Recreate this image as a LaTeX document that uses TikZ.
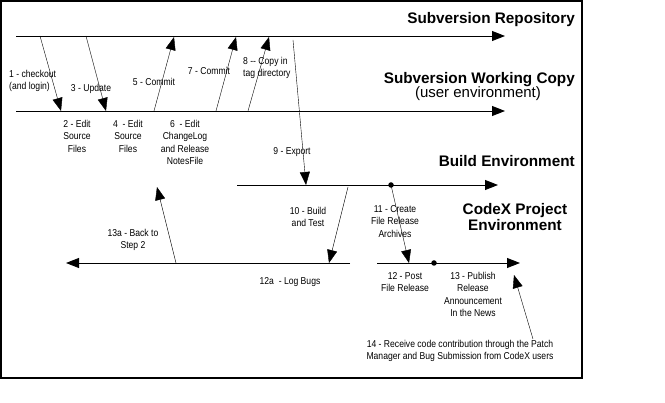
\documentclass[tikz,border=0pt]{standalone}
\usepackage{fontspec}
\setmainfont{Liberation Sans}
\newfontfamily\narrowsans[FakeStretch=0.86]{Liberation Sans}
\usetikzlibrary{calc,positioning}
\usetikzlibrary{arrows.meta}
\tikzset{>={Triangle[width=10pt,length=13pt]}}

\begin{document}
\begin{tikzpicture}[x=1pt,y=-1pt]
      \tikzstyle{tnode} = [font=\fontsize{15.3}{16.5}\selectfont\bfseries, inner sep = 0pt]
      \tikzstyle{unode} = [font=\fontsize{15}{16}\selectfont, inner sep = 0pt]
      \tikzstyle{lnode} = [font=\narrowsans\fontsize{10}{12.5}\selectfont, inner sep = 0pt, align=center]
      \tikzstyle{dnode} = [circle, fill, inner sep = 0pt, minimum size = 5.5pt]
      \tikzstyle{line} = [line width = 0.9pt]

      \useasboundingbox (0,0) rectangle (665,403);
      \draw[line width = 1.2pt] (1,1) rectangle (582,378);

      % time lines
      \coordinate (repS) at (16,36);   \coordinate (repE) at (505,36);
      \coordinate (wcS) at (16,111);   \coordinate (wcE) at (505,111);
      \coordinate (bldS) at (237,185); \coordinate (bldE) at (498,185);
      \coordinate (cxS) at (350,263);  \coordinate (cxE) at (66,263);
      \coordinate (pubS) at (377,263); \coordinate (pubE) at (520,263);
      \draw[line, ->] (repS) -- (repE);
      \draw[line, ->] (wcS) -- (wcE);
      \draw[line, ->] (bldS) -- (bldE);
      \draw[line, ->] (cxS) -- (cxE);
      \draw[line, ->] (pubS) -- (pubE);

      \node[dnode] (d11) at (391,185) {};
      \node[dnode] (d13) at (434,263) {};

      % titles
      \node[tnode, anchor=base east] (trep) at (575,24) {Subversion Repository};
      \node[tnode, anchor=base east] (twc) at (575,84) {Subversion Working Copy};
      \node[unode, anchor=base] (tuser) at (478,98) {(user environment)};
      \node[tnode, anchor=base east] (tbld) at (575,167) {Build Environment};
      \node[tnode, anchor=base, align=center] (tcx) at (515,231) {CodeX Project\\Environment};

      % steps
      \coordinate (a1) at (40,36);   \coordinate (b1) at (61,111);
      \coordinate (a3) at (86,36);   \coordinate (b3) at (106,111);
      \coordinate (a5) at (154,111); \coordinate (b5) at (174,37);
      \coordinate (a7) at (216,111); \coordinate (b7) at (236,37);
      \coordinate (a8) at (248,111); \coordinate (b8) at (269,37);
      \coordinate (a9) at (293,40);  \coordinate (b9) at (306,185);
      \coordinate (a10) at (348,187); \coordinate (b10) at (329,263);
      \coordinate (b11) at (409,263);
      \coordinate (a13) at (176,263); \coordinate (b13) at (157,187);
      \coordinate (a14) at (533,339); \coordinate (b14) at (514,275);
      \draw[->] (a1) -- (b1);
      \draw[->] (a3) -- (b3);
      \draw[->] (a5) -- (b5);
      \draw[->] (a7) -- (b7);
      \draw[->] (a8) -- (b8);
      \draw[->] (a9) -- (b9);
      \draw[->] (a10) -- (b10);
      \draw[->] (d11.center) -- (b11);
      \draw[->] (a13) -- (b13);
      \draw[->] (a14) -- (b14);

      % labels
      \node[lnode, align=left, anchor=north west] (l1) at (9,70) {1 - checkout\\(and login)};
      \node[lnode] (l3) at (91,89) {3 - Update};
      \node[lnode] (l5) at (154,82) {5 - Commit};
      \node[lnode] (l7) at (209,71) {7 - Commit};
      \node[lnode, align=left, anchor=north west] (l8) at (243,57) {8 -- Copy in\\tag directory};
      \node[lnode, anchor=north] (l2) at (77,120) {2 - Edit\\Source\\Files};
      \node[lnode, anchor=north] (l4) at (128,120) {4 \ - Edit\\Source\\Files};
      \node[lnode, anchor=north] (l6) at (185,120) {6 \ - Edit\\ChangeLog\\and Release\\NotesFile};
      \node[lnode] (l9) at (292,152) {9 - Export};
      \node[lnode, anchor=north] (l10) at (308,207) {10 - Build\\and Test};
      \node[lnode, anchor=north] (l13a) at (133,229) {13a - Back to\\Step 2};
      \node[lnode] (l12a) at (290,282) {12a \ - Log Bugs};
      \node[lnode, anchor=north] (l11) at (395,205) {11 - Create\\File Release\\Archives};
      \node[lnode, anchor=north] (l12) at (405,272) {12 - Post\\File Release};
      \node[lnode, anchor=north] (l13) at (473,272) {13 - Publish\\Release\\Announcement\\In the News};
      \node[lnode, anchor=north] (l14) at (460,340) {14 - Receive code contribution through the Patch\\Manager and Bug Submission from CodeX users};
\end{tikzpicture}
\end{document}
